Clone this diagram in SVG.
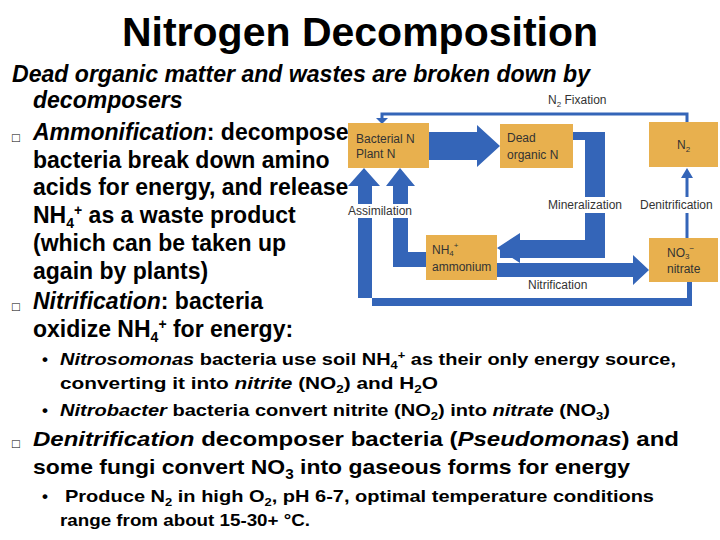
<svg xmlns="http://www.w3.org/2000/svg" width="720" height="540" viewBox="0 0 720 540">
<style>
text{font-family:"Liberation Sans",Arial,sans-serif;fill:#000}
.b{font-weight:bold;font-size:23px}
.c{font-size:21px;font-weight:bold}
.s{font-weight:bold;font-size:17px}
.d{font-size:12px;fill:#333}
.bx{fill:#E8B04E}
.fl{fill:#3465B8}
.ln{stroke:#3465B8;fill:none}
</style>
<rect width="720" height="540" fill="#fff"/>
<text x="360" y="46" text-anchor="middle" font-size="41" font-weight="bold">Nitrogen Decomposition</text>
<g id="text">
<text class="b" x="12" y="82" font-style="italic" textLength="578" lengthAdjust="spacingAndGlyphs">Dead organic matter and wastes are broken down by</text>
<text class="b" x="33" y="108" font-style="italic">decomposers</text>
<text x="12" y="142" font-size="13">□</text><text class="b" x="33" y="140"><tspan font-style="italic">Ammonification</tspan>: decomposer</text>
<text class="b" x="33" y="168">bacteria break down amino</text>
<text class="b" x="33" y="195">acids for energy, and release</text>
<text class="b" x="33" y="223">NH<tspan font-size="14" dy="5">4</tspan><tspan font-size="14" dy="-13">+</tspan><tspan dy="8"> as a waste product</tspan></text>
<text class="b" x="33" y="251">(which can be taken up</text>
<text class="b" x="33" y="279">again by plants)</text>
<text x="12" y="311" font-size="13">□</text><text class="b" x="33" y="309"><tspan font-style="italic">Nitrification</tspan>: bacteria</text>
<text class="b" x="33" y="337">oxidize NH<tspan font-size="14" dy="5">4</tspan><tspan font-size="14" dy="-13">+</tspan><tspan dy="8"> for energy:</tspan></text>
<text class="s" x="42" y="365">•</text>
<text class="s" x="60" y="365" textLength="616" lengthAdjust="spacingAndGlyphs"><tspan font-style="italic">Nitrosomonas</tspan> bacteria use soil NH<tspan font-size="11" dy="4">4</tspan><tspan font-size="11" dy="-10">+</tspan><tspan dy="6"> as their only energy source,</tspan></text>
<text class="s" x="60" y="389" textLength="378" lengthAdjust="spacingAndGlyphs">converting it into <tspan font-style="italic">nitrite</tspan> (NO<tspan font-size="11" dy="4">2</tspan><tspan dy="-4">) and H</tspan><tspan font-size="11" dy="4">2</tspan><tspan dy="-4">O</tspan></text>
<text class="s" x="42" y="416">•</text>
<text class="s" x="60" y="416" textLength="550" lengthAdjust="spacingAndGlyphs"><tspan font-style="italic">Nitrobacter</tspan> bacteria convert nitrite (NO<tspan font-size="11" dy="4">2</tspan><tspan dy="-4">) into </tspan><tspan font-style="italic">nitrate</tspan> (NO<tspan font-size="11" dy="4">3</tspan><tspan dy="-4">)</tspan></text>
<text x="12" y="448" font-size="13">□</text>
<text class="c" x="33" y="446" textLength="646" lengthAdjust="spacingAndGlyphs"><tspan font-style="italic">Denitrification</tspan> decomposer bacteria (<tspan font-style="italic">Pseudomonas</tspan>) and</text>
<text class="c" x="33" y="474" textLength="597" lengthAdjust="spacingAndGlyphs">some fungi convert NO<tspan font-size="14" dy="5">3</tspan><tspan dy="-5"> into gaseous forms for energy</tspan></text>
<text class="s" x="42" y="502">•</text>
<text class="s" x="65" y="502" textLength="589" lengthAdjust="spacingAndGlyphs">Produce N<tspan font-size="11" dy="4">2</tspan><tspan dy="-4"> in high O</tspan><tspan font-size="11" dy="4">2</tspan><tspan dy="-4">, pH 6-7, optimal temperature conditions</tspan></text>
<text class="s" x="60" y="526" textLength="250" lengthAdjust="spacingAndGlyphs">range from about 15-30+ °C.</text>
</g>
<g id="connectors">
<polyline class="ln" stroke-width="3" points="687,122 687,114 382,114 382,120"/>
<polygon class="fl" points="376,118 388,118 382,124"/>
<polygon class="fl" points="429,132 477,132 477,125 500,146 477,167 477,160 429,160"/>
<polygon class="fl" points="573,132 605,132 605,258 500,258 500,248 585,248 585,140 573,140"/>
<polygon class="fl" points="585,240 520,240 520,233 497,248 520,263 520,258 585,258"/>
<polygon class="fl" points="497,263 633,263 633,255 649,270 633,285 633,277 497,277"/>
<line class="ln" stroke-width="3" x1="687" y1="238" x2="687" y2="176"/>
<polygon class="fl" points="681,178 693,178 687,168"/>
<polygon class="fl" points="687,282 692,282 692,306 372,306 372,186 380,186 364,168 348,186 358,186 358,298 687,298"/>
<polygon class="fl" points="426,267 393,267 393,186 386,186 400,168 415,186 408,186 408,252 426,252"/>
<rect x="540" y="197" width="120" height="16" fill="#fff"/>
<rect x="665" y="197" width="55" height="16" fill="#fff"/>
<rect x="346" y="204" width="75" height="14" fill="#fff"/>
</g>
<g id="labels" class="d">
<text class="d" x="548" y="104">N<tspan font-size="8" dy="3">2</tspan><tspan dy="-3"> Fixation</tspan></text>
<text class="d" x="548" y="209">Mineralization</text>
<text class="d" x="640" y="209">Denitrification</text>
<text class="d" x="348" y="215">Assimilation</text>
<text class="d" x="528" y="289">Nitrification</text>
</g>
<g id="bacterial"><rect class="bx" x="348" y="123" width="81" height="45"/><text class="d" x="356" y="143">Bacterial N</text><text class="d" x="356" y="158">Plant N</text></g>
<g id="dead"><rect class="bx" x="500" y="124" width="73" height="44"/><text class="d" x="507" y="142">Dead</text><text class="d" x="507" y="159">organic N</text></g>
<g id="n2"><rect class="bx" x="649" y="122" width="69" height="45"/><text class="d" x="677" y="149">N<tspan font-size="8" dy="3">2</tspan></text></g>
<g id="nh4"><rect class="bx" x="426" y="235" width="71" height="45"/><text class="d" x="432" y="254">NH<tspan font-size="8" dy="2">4</tspan><tspan font-size="8" dy="-8">+</tspan></text><text class="d" x="432" y="271">ammonium</text></g>
<g id="no3"><rect class="bx" x="649" y="238" width="69" height="44"/><text class="d" x="667" y="257">NO<tspan font-size="8" dy="2">3</tspan><tspan font-size="8" dy="-8">−</tspan></text><text class="d" x="667" y="273">nitrate</text></g>
</svg>
